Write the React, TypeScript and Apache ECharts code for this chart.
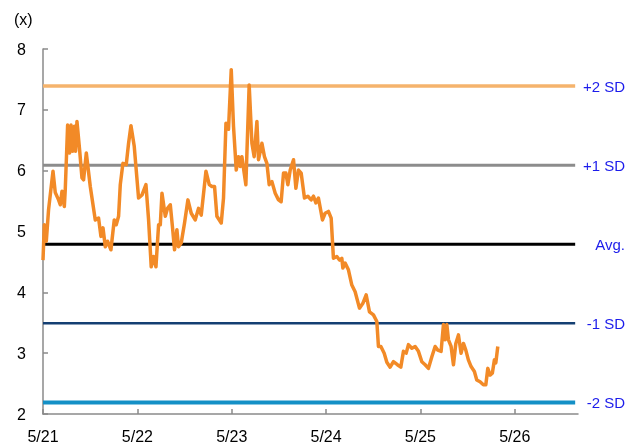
import React, { useEffect, useRef } from "react";
import * as echarts from "echarts";

// time in years after 5/21
const years: number[] = [
  0, 0.014, 0.035, 0.059, 0.106, 0.13, 0.165, 0.183, 0.201, 0.226, 0.236, 0.261, 0.282, 0.297, 0.314, 0.332, 0.345, 0.36, 0.388, 0.413,
  0.43, 0.459, 0.501, 0.554, 0.589, 0.614, 0.636, 0.66, 0.684, 0.72, 0.755, 0.776, 0.801, 0.819, 0.847, 0.882, 0.907, 0.932, 0.967, 1.013,
  1.049, 1.091, 1.119, 1.147, 1.172, 1.197, 1.225, 1.243, 1.261, 1.296, 1.32, 1.349, 1.373, 1.394, 1.419, 1.436, 1.465, 1.5, 1.536, 1.571,
  1.613, 1.648, 1.677, 1.727, 1.762, 1.79, 1.818, 1.843, 1.889, 1.913, 1.939, 1.966, 1.995, 2.019, 2.048, 2.072, 2.09, 2.108, 2.125, 2.15,
  2.185, 2.214, 2.238, 2.267, 2.284, 2.32, 2.347, 2.373, 2.397, 2.426, 2.461, 2.496, 2.524, 2.549, 2.574, 2.595, 2.62, 2.655, 2.68, 2.708,
  2.736, 2.771, 2.807, 2.842, 2.867, 2.892, 2.919, 2.962, 2.99, 3.025, 3.054, 3.078, 3.114, 3.142, 3.167, 3.178, 3.202, 3.237, 3.273, 3.308,
  3.354, 3.39, 3.425, 3.46, 3.502, 3.538, 3.555, 3.581, 3.616, 3.644, 3.679, 3.714, 3.756, 3.792, 3.82, 3.849, 3.873, 3.909, 3.944, 3.979,
  4.015, 4.05, 4.085, 4.121, 4.156, 4.184, 4.219, 4.244, 4.262, 4.28, 4.297, 4.325, 4.35, 4.375, 4.403, 4.431, 4.456, 4.481, 4.508, 4.537,
  4.572, 4.597, 4.632, 4.667, 4.693, 4.714, 4.738, 4.762, 4.784, 4.799, 4.82,
];

const multiple: number[] = [
  4.53, 5.11, 4.84, 5.36, 5.99, 5.64, 5.52, 5.44, 5.66, 5.41, 5.69, 6.75, 6.29, 6.75, 6.32, 6.73, 6.32, 6.81, 6.34, 5.88,
  5.85, 6.29, 5.74, 5.19, 5.22, 4.92, 5.06, 4.75, 4.84, 4.7, 5.19, 5.11, 5.25, 5.77, 6.12, 6.1, 6.45, 6.74, 6.4, 5.55,
  5.6, 5.77, 5.19, 4.42, 4.59, 4.42, 5.11, 5.11, 5.63, 5.25, 5.38, 5.44, 5.06, 4.7, 5.03, 4.75, 4.81, 5.14, 5.52, 5.3,
  5.19, 5.38, 5.27, 5.99, 5.77, 5.74, 5.74, 5.25, 5.14, 5.55, 6.78, 6.68, 7.66, 6.73, 6.01, 6.23, 6.07, 6.23, 6.04, 5.77,
  7.41, 6.45, 6.23, 6.81, 6.18, 6.45, 6.23, 6.12, 5.77, 5.82, 5.63, 5.52, 5.49, 5.96, 5.96, 5.77, 6.01, 6.18, 5.71, 6.01,
  5.96, 5.55, 5.58, 5.52, 5.58, 5.47, 5.55, 5.19, 5.3, 5.33, 5.22, 4.56, 4.59, 4.53, 4.56, 4.4, 4.48, 4.37, 4.12, 4.01,
  3.74, 3.82, 3.96, 3.68, 3.63, 3.52, 3.11, 3.11, 3.0, 2.85, 2.77, 2.86, 2.81, 2.77, 3.03, 3.0, 3.14, 3.08, 3.11, 3.03,
  2.86, 2.81, 2.75, 2.94, 3.11, 3.05, 3.03, 3.47, 3.22, 3.47, 3.22, 3.11, 2.81, 3.16, 3.3, 3.0, 3.16, 3.05, 2.89, 2.78,
  2.7, 2.56, 2.53, 2.48, 2.48, 2.75, 2.64, 2.67, 2.89, 2.84, 3.11,
];

const levelNames: string[] = ["+2 SD", "+1 SD", "Avg.", "-1 SD", "-2 SD"];
const levelValues: number[] = [7.39, 6.09, 4.79, 3.49, 2.19];
const levelColors: string[] = ["#F5B36C", "#8C8C8C", "#000000", "#143F72", "#1490C6"];
const levelWidths: number[] = [3.5, 3, 3, 2.5, 4];

const yTicks: number[] = [2, 3, 4, 5, 6, 7, 8];
const xTickLabels: string[] = ["5/21", "5/22", "5/23", "5/24", "5/25", "5/26"];

const lineEnd = 5.64;
const axisEnd = 5.67;

export default function App() {
  const ref = useRef<HTMLDivElement>(null);
  useEffect(() => {
    if (!ref.current) return;
    const chart = echarts.init(ref.current, null, { renderer: "svg" });
    const font = "'Liberation Sans', Arial, sans-serif";
    const levelSeries = levelValues.map((v, i) => ({
      type: "line",
      name: levelNames[i],
      data: [
        [0, v],
        [lineEnd, v],
      ],
      symbol: "none",
      lineStyle: { color: levelColors[i], width: levelWidths[i] },
      z: 2,
    }));
    chart.setOption({
      animation: false,
      grid: { left: 43, right: 50, top: 49, bottom: 33 },
      xAxis: {
        type: "value",
        min: 0,
        max: axisEnd,
        interval: 1,
        splitLine: { show: false },
        axisLine: { lineStyle: { color: "#8A8A8A", width: 1.5 } },
        axisTick: { inside: true, length: 5, lineStyle: { color: "#8A8A8A", width: 1.5 } },
        axisLabel: {
          margin: 14,
          color: "#000",
          fontSize: 16,
          fontFamily: font,
          showMaxLabel: false,
          formatter: (v: number) => (Number.isInteger(v) ? xTickLabels[v] ?? "" : ""),
        },
      },
      yAxis: {
        type: "value",
        min: yTicks[0],
        max: yTicks[yTicks.length - 1],
        interval: 1,
        splitLine: { show: false },
        axisLine: { show: true, lineStyle: { color: "#8A8A8A", width: 1.5 } },
        axisTick: { show: true, inside: true, length: 5, lineStyle: { color: "#8A8A8A", width: 1.5 } },
        axisLabel: { margin: 17, color: "#000", fontSize: 16, fontFamily: font },
      },
      series: [
        ...levelSeries,
        {
          type: "line",
          name: "P/B",
          data: years.map((t, i) => [t, multiple[i]]),
          symbol: "none",
          lineStyle: { color: "#F28A27", width: 3.5, join: "round" },
          z: 3,
        },
      ],
    });
    const graphics: any[] = [
      {
        type: "text",
        left: 14,
        top: 11,
        style: { text: "(x)", fontSize: 16, fontFamily: font, fill: "#000" },
      },
    ];
    levelValues.forEach((v, i) => {
      const y = chart.convertToPixel({ yAxisIndex: 0 }, v) as number;
      graphics.push({
        type: "text",
        x: 625,
        y,
        style: {
          text: levelNames[i],
          fontSize: 15,
          fontFamily: font,
          fill: "#1C1CEB",
          align: "right",
          verticalAlign: "middle",
        },
      });
    });
    chart.setOption({ graphic: graphics });
    return () => chart.dispose();
  }, []);
  return (
    <div
      ref={ref}
      style={{ position: "fixed", left: 0, top: 0, width: 628, height: 447 }}
    />
  );
}
